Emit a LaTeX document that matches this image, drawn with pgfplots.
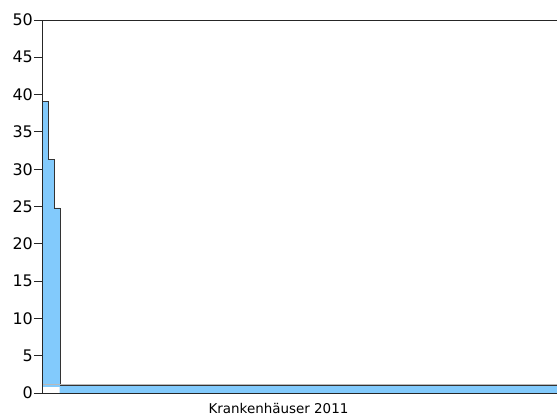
\documentclass[border=0pt]{standalone}
\usepackage{pgfplots}
\pgfplotsset{compat=1.18}
\usepackage{fontspec}
\setmainfont{DejaVu Sans}
\definecolor{barblue}{RGB}{130,202,252}
\definecolor{meangray}{RGB}{185,185,185}
\begin{document}
\begin{tikzpicture}
\begin{axis}[
    name=ax,
    scale only axis,
    width=515bp, height=373bp,
    xmin=0, xmax=515,
    ymin=0, ymax=50,
    ytick={0,5,...,50},
    xtick=\empty,
    tick align=outside,
    major tick length=8bp,
    ytick style={black!85, line width=0.9pt},
    axis line style={draw=none},
    tick label style={font=\fontsize{16}{18}\selectfont},
    yticklabel style={inner xsep=1bp},
    /pgf/number format/assume math mode=true,
    xlabel={Krankenhäuser 2011},
    xlabel style={font=\fontsize{13.5}{15}\selectfont, xshift=-21bp, yshift=1bp},
    clip=false,
]
% bars, sorted descending
\addplot[const plot, fill=barblue, draw=black!80, line width=0.6pt]
    coordinates {(0,39.1)(6.6,31.3)(12.3,24.8)(18,1.0)(515,1.0)} \closedcycle;
% white base under the first bars
\addplot[const plot, fill=white, draw=none]
    coordinates {(0.4,0.8)(17.6,0.8)} \closedcycle;
% mean line
\addplot[meangray, line width=1.4pt] coordinates {(0,1.15)(515,1.15)};
\end{axis}
\draw[black!85, line width=0.9pt] (ax.south east) -- (ax.south west) -- (ax.north west) -- (ax.north east);
\pgfresetboundingbox
\path[use as bounding box] ([xshift=-42bp,yshift=-26bp]ax.south west) rectangle ([yshift=20bp]ax.north east);
\end{tikzpicture}
\end{document}
